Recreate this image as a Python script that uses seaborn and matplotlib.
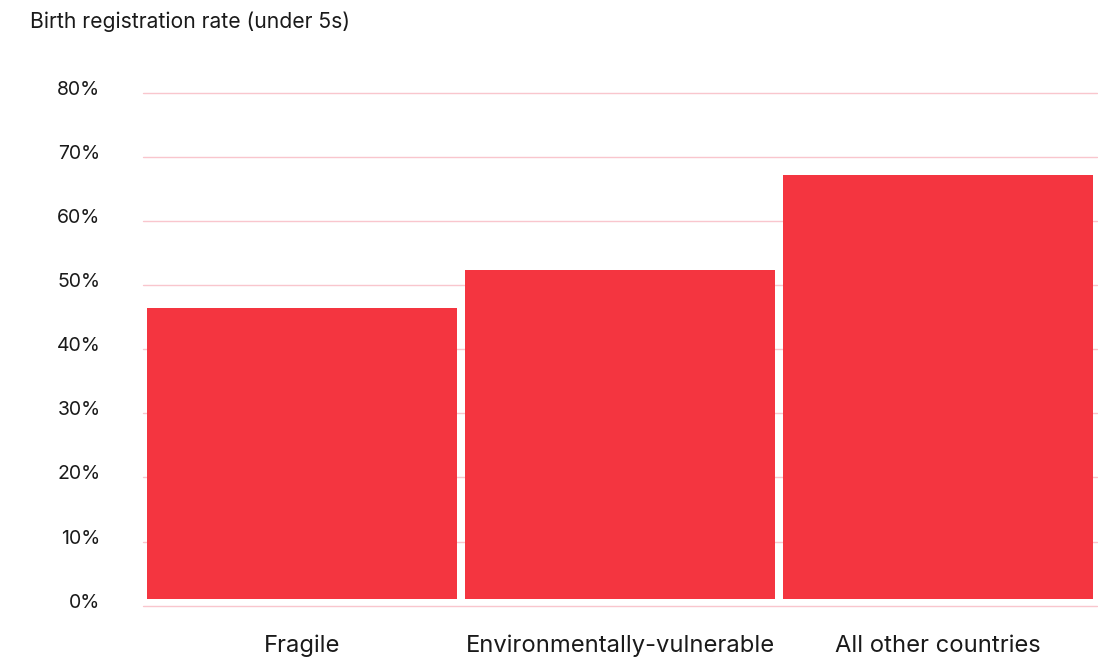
import matplotlib
matplotlib.use("Agg")
import matplotlib.pyplot as plt
import matplotlib.transforms as mtransforms
import seaborn as sns
import pandas as pd

categories = ["Fragile", "Environmentally-vulnerable", "All other countries"]
rates = [46.4, 52.4, 67.2]
yticks = [0, 10, 20, 30, 40, 50, 60, 70, 80]
ytick_labels = ["0%", "10%", "20%", "30%", "40%", "50%", "60%", "70%", "80%"]

sns.set_theme(style="white")
plt.rcParams["font.family"] = ["Inter", "DejaVu Sans"]

df = pd.DataFrame({"category": categories, "rate": rates})

W, H = 1098, 659
fig = plt.figure(figsize=(W / 100, H / 100), dpi=100)
ax_left = 143 / W
ax_right = 1097 / W
y0 = 605.7
y80 = 92.7
ax_bottom = (H - y0) / H
ax_top = (H - y80) / H
ax = fig.add_axes([ax_left, ax_bottom, ax_right - ax_left, ax_top - ax_bottom])

sns.barplot(data=df, x="category", y="rate", color="#F43540", saturation=1,
            width=0.972, ax=ax, edgecolor="none")

# bars start slightly above the zero line
offset = 1.1
for p in ax.patches:
    top = p.get_y() + p.get_height()
    p.set_y(offset)
    p.set_height(top - offset)

ax.set_ylim(0, 80)
ax.set_xlim(-0.5, 2.5)
ax.set_yticks(yticks)
ax.set_yticklabels(ytick_labels)
for y in yticks:
    ax.axhline(y, color="#F9C6CD", linewidth=1.0, zorder=0, clip_on=False)

for s in ax.spines.values():
    s.set_visible(False)
ax.tick_params(axis="both", length=0)
ax.tick_params(axis="y", labelsize=14, colors="#1a1a1a", pad=30.6)
ax.tick_params(axis="x", labelsize=17.1, colors="#1a1a1a", pad=21)
ax.set_xlabel("")
ax.set_ylabel("")

shift = mtransforms.ScaledTranslation(0, 5 / 100, fig.dpi_scale_trans)
for lbl in ax.get_yticklabels():
    lbl.set_transform(lbl.get_transform() + shift)

fig.text(30 / W, 1 - 22 / H, "Birth registration rate (under 5s)", fontsize=15.2,
         color="#1a1a1a", ha="left", va="center")

fig.savefig("out.png", dpi=100)
